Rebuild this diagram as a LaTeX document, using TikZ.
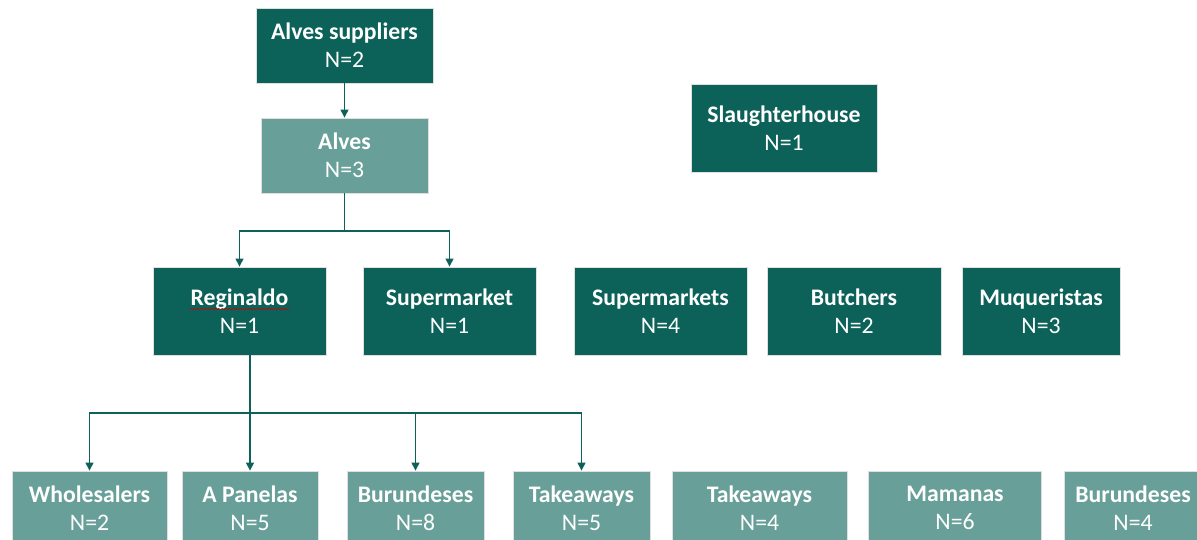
\documentclass[tikz,border=0pt]{standalone}
\usepackage{fontspec}
\setmainfont{Carlito}
\usetikzlibrary{arrows.meta,decorations.pathmorphing}
\definecolor{darkteal}{RGB}{12,98,89}
\definecolor{lightteal}{RGB}{104,160,153}

\tikzset{
  box/.style={draw=white!75!gray, line width=0.5pt, text=white, align=center,
    inner sep=0pt, font=\fontsize{13.5}{16}\selectfont},
  boxsize/.style 2 args={minimum width=#1*0.02cm, minimum height=#2*0.02cm},
  darkbox/.style={box, fill=darkteal},
  lightbox/.style={box, fill=lightteal},
  link/.style={darkteal, line width=0.7pt, -{Triangle[width=4.5pt,length=4.5pt]}},
}

\begin{document}
\begin{tikzpicture}[x=0.02cm, y=-0.02cm]
        \clip (0,0) rectangle (1197,539);
        % top
        \node[darkbox, boxsize={177}{75}] (sup) at (344.5,45.5) {\textbf{Alves suppliers}\\N=2};
        \node[lightbox, boxsize={167}{75}] (alv) at (344.5,155.5) {\textbf{Alves}\\N=3};
        \node[darkbox, boxsize={186}{88}] (slh) at (784,128) {\textbf{Slaughterhouse}\\N=1};
        % middle row
        \node[darkbox, boxsize={173}{88}] (reg) at (239.5,311) {\textbf{Reginaldo}\\N=1};
        \node[darkbox, boxsize={173}{88}] (smk) at (449.5,311) {\textbf{Supermarket}\\N=1};
        \node[darkbox, boxsize={173}{88}] (sms) at (660.5,311) {\textbf{Supermarkets}\\N=4};
        \node[darkbox, boxsize={174}{88}] (but) at (854,311) {\textbf{Butchers}\\N=2};
        \node[darkbox, boxsize={158}{88}] (muq) at (1041,311) {\textbf{Muqueristas}\\N=3};
        % bottom row
        \node[lightbox, boxsize={155}{74}] (whl) at (89.5,508) {\textbf{Wholesalers}\\N=2};
        \node[lightbox, boxsize={136}{74}] (apn) at (250,508) {\textbf{A Panelas}\\N=5};
        \node[lightbox, boxsize={137}{74}] (bur) at (415.5,508) {\textbf{Burundeses}\\N=8};
        \node[lightbox, boxsize={137}{74}] (tak) at (581.5,508) {\textbf{Takeaways}\\N=5};
        \node[lightbox, boxsize={175}{74}] (takb) at (759.5,508) {\textbf{Takeaways}\\N=4};
        \node[lightbox, boxsize={173}{74}] (mam) at (955,508) {\textbf{Mamanas}\\N=6};
        \node[lightbox, boxsize={138}{74}] (burb) at (1133,508) {\textbf{Burundeses}\\N=4};
        % spell check line
        \draw[red!80!black, line width=0.3pt, decorate, decoration={snake, amplitude=0.4pt, segment length=2pt}]
          ([shift={(-50,-2)}]reg.center) -- ([shift={(50,-2)}]reg.center);
        % links
        \draw[link] (sup) -- (alv);
        \coordinate (forka) at (344.5,231);
        \draw[darkteal, line width=0.7pt] (alv.south) -- (forka);
        \draw[link] (forka) -| (reg.north);
        \draw[link] (forka) -| (smk.north);
        \coordinate (forkb) at (250,413);
        \draw[darkteal, line width=0.7pt] (reg.south -| forkb) -- (forkb);
        \draw[link] (forkb) -| (whl.north);
        \draw[link] (forkb) -- (apn.north);
        \draw[link] (forkb) -| (bur.north);
        \draw[link] (forkb) -| (tak.north);
\end{tikzpicture}
\end{document}
